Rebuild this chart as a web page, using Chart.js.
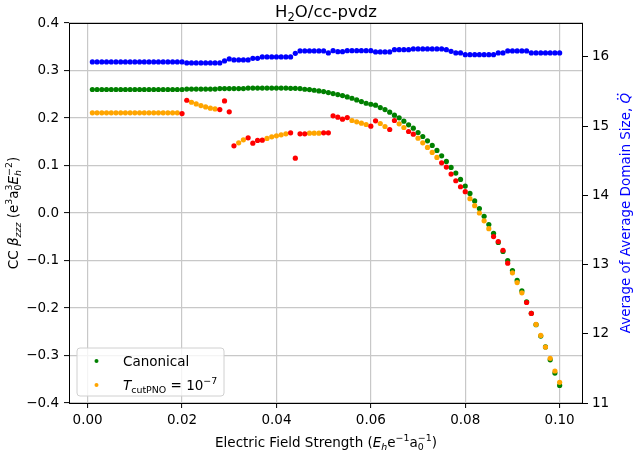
<!DOCTYPE html>
<html>
<head>
<meta charset="utf-8">
<title>H2O/cc-pvdz</title>
<script src="https://cdn.jsdelivr.net/npm/chart.js@4.4.1/dist/chart.umd.min.js"></script>
<style>
  html, body { margin: 0; padding: 0; background: #fff; }
  #wrap { width: 636px; height: 452px; position: relative; }
</style>
</head>
<body>
<div id="wrap"><canvas id="chart"></canvas></div>
<script>
// field strength grid (E_h e^-1 a_0^-1)
const fieldStrength = [
    0.001, 0.002, 0.003, 0.004, 0.005, 0.006, 0.007, 0.008, 0.009, 0.010,
    0.011, 0.012, 0.013, 0.014, 0.015, 0.016, 0.017, 0.018, 0.019, 0.020,
    0.021, 0.022, 0.023, 0.024, 0.025, 0.026, 0.027, 0.028, 0.029, 0.030,
    0.031, 0.032, 0.033, 0.034, 0.035, 0.036, 0.037, 0.038, 0.039, 0.040,
    0.041, 0.042, 0.043, 0.044, 0.045, 0.046, 0.047, 0.048, 0.049, 0.050,
    0.051, 0.052, 0.053, 0.054, 0.055, 0.056, 0.057, 0.058, 0.059, 0.060,
    0.061, 0.062, 0.063, 0.064, 0.065, 0.066, 0.067, 0.068, 0.069, 0.070,
    0.071, 0.072, 0.073, 0.074, 0.075, 0.076, 0.077, 0.078, 0.079, 0.080,
    0.081, 0.082, 0.083, 0.084, 0.085, 0.086, 0.087, 0.088, 0.089, 0.090,
    0.091, 0.092, 0.093, 0.094, 0.095, 0.096, 0.097, 0.098, 0.099, 0.100
];

// canonical CC beta_zzz
const canonicalBeta = [
    0.260, 0.260, 0.260, 0.260, 0.260, 0.260, 0.260, 0.260, 0.260, 0.260,
    0.260, 0.260, 0.260, 0.260, 0.260, 0.260, 0.260, 0.260, 0.260, 0.260,
    0.261, 0.261, 0.261, 0.261, 0.261, 0.261, 0.261, 0.262, 0.262, 0.262,
    0.262, 0.262, 0.262, 0.263, 0.263, 0.263, 0.263, 0.263, 0.263, 0.263,
    0.263, 0.263, 0.2625, 0.2625, 0.2619, 0.2605, 0.2598, 0.2584, 0.2570, 0.2556,
    0.2535, 0.2514, 0.2493, 0.2472, 0.2444, 0.2416, 0.2381, 0.2346, 0.2311, 0.2290,
    0.2269, 0.2220, 0.2178, 0.2122, 0.2059, 0.2003, 0.1933, 0.1856, 0.1786, 0.1695,
    0.1611, 0.1520, 0.1422, 0.1317, 0.1204, 0.1085, 0.0959, 0.0840, 0.0707, 0.0567,
    0.0413, 0.0255, 0.0095, -0.0070, -0.0242, -0.0426, -0.0620, -0.0810, -0.1000, -0.1210,
    -0.1420, -0.1640, -0.1870, -0.2110, -0.2350, -0.2590, -0.2820, -0.3090, -0.3370, -0.3630
];

// T_cutPNO = 1e-7 (null where the point is flagged red)
const pnoBeta = [
    0.2108, 0.2108, 0.2108, 0.2108, 0.2108, 0.2108, 0.2108, 0.2108, 0.2108, 0.2108,
    0.2108, 0.2108, 0.2108, 0.2108, 0.2108, 0.2108, 0.2108, 0.2108, 0.2108, null,
    null, 0.2332, 0.2297, 0.2262, 0.2234, 0.2206, 0.2192, null, null, null,
    null, 0.1478, 0.1541, null, null, null, null, 0.1569, 0.1604, 0.1625,
    0.1646, 0.1667, null, null, null, null, 0.1681, 0.1681, 0.1681, null,
    null, null, null, null, null, 0.1947, 0.1919, 0.1891, 0.1863, null,
    null, 0.1884, 0.1821, null, null, 0.1877, 0.1800, null, null, 0.1576,
    0.1478, 0.1380, 0.1275, 0.1170, null, null, null, null, null, null,
    0.0301, 0.0154, 0.0000, -0.0165, -0.0329, null, null, null, null, -0.1260,
    -0.1464, -0.1680, null, null, -0.2346, -0.2577, -0.2822, -0.3060, -0.3326, -0.3564
];

// red points
const flaggedField = [
    0.020, 0.021, 0.028, 0.029, 0.030, 0.031, 0.034, 0.035, 0.036, 0.037,
    0.043, 0.044, 0.045, 0.046, 0.050, 0.051, 0.052, 0.053, 0.054, 0.055,
    0.060, 0.061, 0.064, 0.065, 0.068, 0.069, 0.075, 0.076, 0.077, 0.078,
    0.079, 0.080, 0.086, 0.087, 0.088, 0.089, 0.093, 0.094
];
const flaggedBeta = [
    0.2094, 0.2374, 0.2178, 0.2360, 0.2129, 0.1415, 0.1583, 0.1471, 0.1527, 0.1534,
    0.1688, 0.1155, 0.1667, 0.1667, 0.1688, 0.1688, 0.2045, 0.2017, 0.1975, 0.2010,
    0.1828, 0.1940, 0.1758, 0.1947, 0.1716, 0.1660, 0.1057, 0.0966, 0.0819, 0.0679,
    0.0553, 0.0448, -0.0497, -0.0602, -0.0784, -0.1057, -0.1884, -0.2115
];

// average of average domain size (right axis)
const domainSize = [
    15.927, 15.927, 15.927, 15.927, 15.927, 15.927, 15.927, 15.927, 15.927, 15.927,
    15.927, 15.927, 15.927, 15.927, 15.927, 15.927, 15.927, 15.927, 15.927, 15.927,
    15.913, 15.913, 15.913, 15.913, 15.913, 15.913, 15.913, 15.913, 15.942, 15.971,
    15.956, 15.956, 15.956, 15.956, 15.980, 15.980, 16.000, 16.000, 16.000, 16.000,
    16.000, 16.000, 16.000, 16.052, 16.086, 16.086, 16.086, 16.086, 16.086, 16.086,
    16.057, 16.090, 16.076, 16.076, 16.090, 16.090, 16.090, 16.090, 16.090, 16.090,
    16.072, 16.072, 16.072, 16.072, 16.105, 16.105, 16.105, 16.105, 16.115, 16.115,
    16.115, 16.115, 16.115, 16.115, 16.115, 16.105, 16.081, 16.057, 16.057, 16.033,
    16.033, 16.033, 16.033, 16.033, 16.033, 16.033, 16.057, 16.057, 16.086, 16.086,
    16.086, 16.086, 16.086, 16.057, 16.057, 16.057, 16.057, 16.057, 16.057, 16.057
];

const fieldTicks = [0.00, 0.02, 0.04, 0.06, 0.08, 0.10];
const betaTicks = [-0.4, -0.3, -0.2, -0.1, 0.0, 0.1, 0.2, 0.3, 0.4];
const domainTicks = [11, 12, 13, 14, 15, 16];

const FONT = "'DejaVu Sans', sans-serif";
const TICK_SIZE = 13.5;

// rich text pieces: it = italic, pos = sub/sup, stack = same x as previous piece
const titleText = [{ t: 'H' }, { t: '2', pos: 'sub' }, { t: 'O/cc-pvdz' }];
const xTitleText = [
    { t: 'Electric Field Strength (' }, { t: 'E', it: true }, { t: 'h', it: true, pos: 'sub' },
    { t: 'e' }, { t: '\u22121', pos: 'sup' }, { t: 'a' }, { t: '0', pos: 'sub' },
    { t: '\u22121', pos: 'sup', stack: true }, { t: ')' }
];
const yTitleText = [
    { t: 'CC ' }, { t: '\u03b2', it: true }, { t: 'zzz', it: true, pos: 'sub' }, { t: ' (e' },
    { t: '3', pos: 'sup' }, { t: 'a' }, { t: '0', pos: 'sub' }, { t: '3', pos: 'sup', stack: true },
    { t: 'E', it: true }, { t: 'h', it: true, pos: 'sub' }, { t: '\u22122', pos: 'sup', stack: true },
    { t: ')' }
];
const y2TitleText = [{ t: 'Average of Average Domain Size, ' }, { t: 'Q', it: true, dots: true }];
const legendCanonical = [{ t: 'Canonical' }];
const legendPno = [
    { t: 'T', it: true }, { t: 'cutPNO', pos: 'sub' }, { t: ' = 10' }, { t: '\u22127', pos: 'sup' }
];

function layoutRich(ctx, parts, size) {
    const items = [];
    let x = 0, lastX = 0, lastW = 0;
    for (const p of parts) {
        const s = p.pos ? size * 0.7 : size;
        ctx.font = (p.it ? 'italic ' : '') + s + 'px ' + FONT;
        const w = ctx.measureText(p.t).width;
        let px;
        if (p.stack) {
            px = lastX;
            x = lastX + Math.max(lastW, w);
        } else {
            px = x;
            x += w;
        }
        const dy = p.pos === 'sub' ? size * 0.22 : p.pos === 'sup' ? -size * 0.4 : 0;
        items.push({ p, s, px, dy, w });
        lastX = px;
        lastW = w;
    }
    return { items, width: x };
}

function drawRich(ctx, parts, x, y, size, color, angle, align) {
    const lay = layoutRich(ctx, parts, size);
    ctx.save();
    ctx.translate(x, y);
    ctx.rotate(angle || 0);
    ctx.fillStyle = color;
    ctx.textAlign = 'left';
    ctx.textBaseline = 'alphabetic';
    const x0 = align === 'left' ? 0 : -lay.width / 2;
    const base = size * 0.36;
    for (const it of lay.items) {
        ctx.font = (it.p.it ? 'italic ' : '') + it.s + 'px ' + FONT;
        ctx.fillText(it.p.t, x0 + it.px, base + it.dy);
        if (it.p.dots) {
            const cx = x0 + it.px + it.w / 2 + 1.5;
            const cy = base - size * 0.9;
            ctx.beginPath();
            ctx.arc(cx - 2.2, cy, 0.9, 0, Math.PI * 2);
            ctx.arc(cx + 2.2, cy, 0.9, 0, Math.PI * 2);
            ctx.fill();
        }
    }
    ctx.restore();
}

function fmt(v, digits) {
    if (Math.abs(v) < 1e-9) v = 0;
    return v.toFixed(digits).replace('-', '\u2212');
}

const decorations = {
    id: 'decorations',
    afterDraw(chart) {
        const ctx = chart.ctx;
        const a = chart.chartArea;
        const midX = (a.left + a.right) / 2;
        const midY = (a.top + a.bottom) / 2;

        ctx.save();
        ctx.strokeStyle = '#000';
        ctx.lineWidth = 1;
        ctx.strokeRect(a.left + 0.5, a.top + 0.5, a.right - a.left - 1, a.bottom - a.top);
        ctx.restore();

        drawRich(ctx, titleText, midX, 11, 16.5, '#000');
        drawRich(ctx, xTitleText, midX, 442, TICK_SIZE, '#000');
        drawRich(ctx, yTitleText, 13, midY, TICK_SIZE, '#000', -Math.PI / 2);
        drawRich(ctx, y2TitleText, 625, midY, TICK_SIZE, '#0000ff', -Math.PI / 2);

        // legend
        const lx = 77, ly = 348, lw = 147, lh = 48, r = 3;
        ctx.save();
        ctx.beginPath();
        ctx.moveTo(lx + r, ly);
        ctx.lineTo(lx + lw - r, ly);
        ctx.quadraticCurveTo(lx + lw, ly, lx + lw, ly + r);
        ctx.lineTo(lx + lw, ly + lh - r);
        ctx.quadraticCurveTo(lx + lw, ly + lh, lx + lw - r, ly + lh);
        ctx.lineTo(lx + r, ly + lh);
        ctx.quadraticCurveTo(lx, ly + lh, lx, ly + lh - r);
        ctx.lineTo(lx, ly + r);
        ctx.quadraticCurveTo(lx, ly, lx + r, ly);
        ctx.closePath();
        ctx.fillStyle = 'rgba(255, 255, 255, 0.8)';
        ctx.fill();
        ctx.strokeStyle = '#d0d0d0';
        ctx.lineWidth = 1;
        ctx.stroke();

        const entries = [
            { color: 'green', text: legendCanonical, y: 361 },
            { color: 'orange', text: legendPno, y: 385 }
        ];
        for (const e of entries) {
            ctx.fillStyle = e.color;
            ctx.beginPath();
            ctx.arc(96.5, e.y, 2, 0, Math.PI * 2);
            ctx.fill();
            drawRich(ctx, e.text, 123, e.y, TICK_SIZE, '#000', 0, 'left');
        }
        ctx.restore();
    }
};

function points(xs, ys) {
    const out = [];
    xs.forEach((x, i) => {
        if (ys[i] !== null) out.push({ x: x, y: ys[i] });
    });
    return out;
}

function dotSet(label, xs, ys, color, axis, order) {
    return {
        label: label,
        data: points(xs, ys),
        yAxisID: axis,
        order: order,
        showLine: false,
        pointRadius: 2.6,
        pointBorderWidth: 0,
        pointBackgroundColor: color,
        pointBorderColor: color,
        backgroundColor: color
    };
}

const tickFont = { family: FONT, size: TICK_SIZE };

new Chart(document.getElementById('chart'), {
    type: 'scatter',
    data: {
        datasets: [
            dotSet('flagged', flaggedField, flaggedBeta, 'red', 'y', 0),
            dotSet('T_cutPNO = 10^-7', fieldStrength, pnoBeta, 'orange', 'y', 1),
            dotSet('Canonical', fieldStrength, canonicalBeta, 'green', 'y', 2),
            dotSet('Domain size', fieldStrength, domainSize, 'blue', 'y2', 3)
        ]
    },
    options: {
        responsive: true,
        maintainAspectRatio: false,
        animation: false,
        events: [],
        layout: { padding: { top: 23, left: 0, right: 0, bottom: 0 } },
        plugins: {
            legend: { display: false },
            title: { display: false },
            tooltip: { enabled: false }
        },
        scales: {
            x: {
                type: 'linear',
                min: -0.00395,
                max: 0.10495,
                afterBuildTicks: (scale) => { scale.ticks = fieldTicks.map(v => ({ value: v })); },
                afterFit: (scale) => { scale.height = 49; },
                border: { display: false },
                grid: { color: '#c8c8c8', lineWidth: 1.2, tickColor: '#000', tickLength: 5, tickWidth: 1 },
                ticks: {
                    autoSkip: false,
                    maxRotation: 0,
                    padding: 4,
                    color: '#000',
                    font: tickFont,
                    callback: (v) => fmt(v, 2)
                }
            },
            y: {
                type: 'linear',
                position: 'left',
                min: -0.4,
                max: 0.4,
                afterBuildTicks: (scale) => { scale.ticks = betaTicks.map(v => ({ value: v })); },
                afterFit: (scale) => { scale.width = 69; },
                border: { display: false },
                grid: { color: '#c8c8c8', lineWidth: 1.2, tickColor: '#000', tickLength: 5, tickWidth: 1 },
                ticks: {
                    autoSkip: false,
                    padding: 5,
                    color: '#000',
                    font: tickFont,
                    callback: (v) => fmt(v, 1)
                }
            },
            y2: {
                type: 'linear',
                position: 'right',
                min: 11,
                max: 16.49,
                afterBuildTicks: (scale) => { scale.ticks = domainTicks.map(v => ({ value: v })); },
                afterFit: (scale) => { scale.width = 53; },
                border: { display: false },
                grid: { drawOnChartArea: false, tickColor: '#000', tickLength: 5, tickWidth: 1 },
                ticks: {
                    autoSkip: false,
                    padding: 4,
                    color: '#000',
                    font: tickFont,
                    callback: (v) => String(v)
                }
            }
        }
    },
    plugins: [decorations]
});
</script>
</body>
</html>
